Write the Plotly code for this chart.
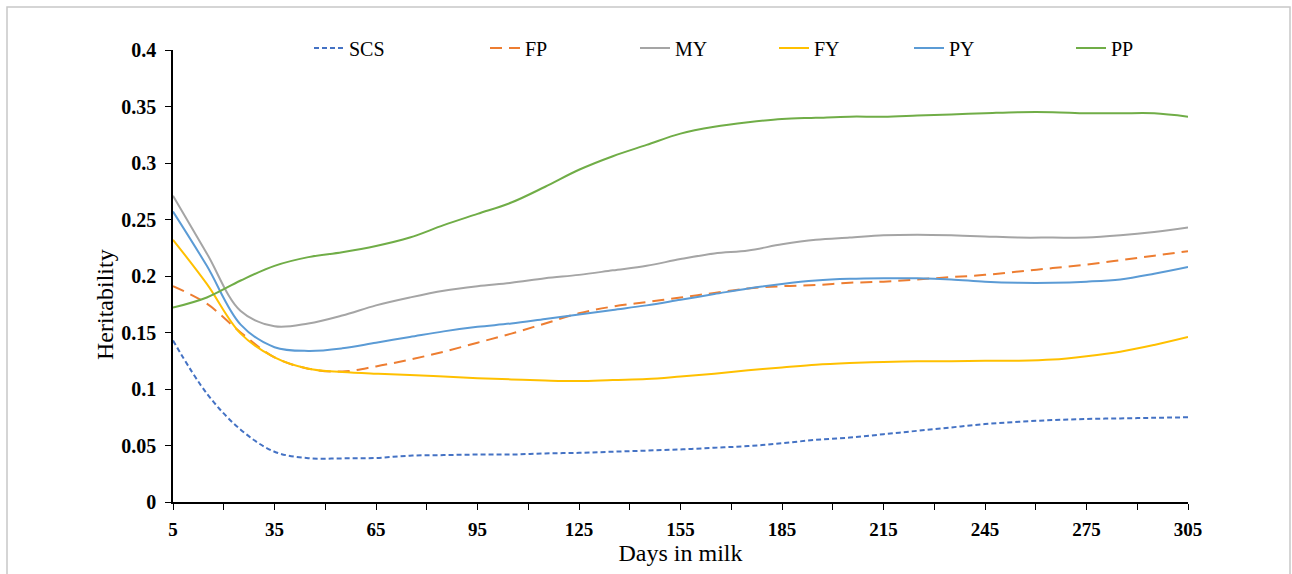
import plotly.graph_objects as go

days = list(range(5, 306, 10))

scs = [0.143, 0.096, 0.064, 0.0445, 0.0388, 0.0386, 0.039, 0.041, 0.0415, 0.042, 0.042,
       0.043, 0.0435, 0.0445, 0.0455, 0.0465, 0.048, 0.0495, 0.052, 0.055, 0.057,
       0.060, 0.063, 0.066, 0.069, 0.071, 0.0725, 0.0735, 0.074, 0.0745, 0.075]
fp = [0.191, 0.1755, 0.150, 0.128, 0.118, 0.1155, 0.120, 0.126, 0.133, 0.141, 0.149,
      0.158, 0.167, 0.173, 0.177, 0.181, 0.185, 0.189, 0.191, 0.192, 0.194,
      0.195, 0.197, 0.199, 0.201, 0.204, 0.207, 0.210, 0.214, 0.218, 0.222]
my = [0.271, 0.220, 0.169, 0.1555, 0.158, 0.165, 0.174, 0.181, 0.187, 0.191, 0.194,
      0.198, 0.201, 0.205, 0.209, 0.215, 0.220, 0.2226, 0.228, 0.232, 0.234,
      0.236, 0.2365, 0.236, 0.235, 0.234, 0.234, 0.234, 0.236, 0.239, 0.243]
fy = [0.232, 0.193, 0.149, 0.128, 0.118, 0.115, 0.1135, 0.1125, 0.111, 0.1095, 0.1085,
      0.1075, 0.107, 0.108, 0.1088, 0.111, 0.1135, 0.1165, 0.119, 0.1215, 0.123,
      0.124, 0.1245, 0.1245, 0.125, 0.125, 0.126, 0.129, 0.133, 0.139, 0.146]
py_ = [0.257, 0.209, 0.157, 0.137, 0.1337, 0.136, 0.141, 0.146, 0.151, 0.155, 0.158,
       0.162, 0.166, 0.170, 0.174, 0.179, 0.184, 0.189, 0.193, 0.196, 0.1975,
       0.198, 0.198, 0.197, 0.195, 0.194, 0.194, 0.195, 0.197, 0.202, 0.208]
pp = [0.172, 0.181, 0.196, 0.209, 0.2167, 0.221, 0.2265, 0.234, 0.245, 0.255, 0.265,
      0.279, 0.294, 0.306, 0.316, 0.326, 0.332, 0.336, 0.339, 0.340, 0.341,
      0.341, 0.342, 0.343, 0.344, 0.345, 0.345, 0.344, 0.344, 0.344, 0.341]

series_names = ["SCS", "FP", "MY", "FY", "PY", "PP"]
series_values = [scs, fp, my, fy, py_, pp]
series_colors = ["#4472C4", "#ED7D31", "#A5A5A5", "#FFC000", "#5B9BD5", "#70AD47"]
series_dash = ["5px,3px", "12px,7px", "solid", "solid", "solid", "solid"]

x_ticks = list(range(5, 306, 30))
y_ticks = [0, 0.05, 0.1, 0.15, 0.2, 0.25, 0.3, 0.35, 0.4]
y_labels = ["0", "0.05", "0.1", "0.15", "0.2", "0.25", "0.3", "0.35", "0.4"]

# plot area geometry (pixels)
L, R, T, B = 173, 1188, 50, 502
W, H = R - L, B - T
legend_text_px = [349, 525, 675, 814, 949, 1111]

font_family = "Liberation Serif, Times New Roman, serif"

fig = go.Figure()
legends = {}
for i, (name, vals, color, dash) in enumerate(zip(series_names, series_values, series_colors, series_dash)):
    key = "legend" if i == 0 else f"legend{i + 1}"
    fig.add_trace(go.Scatter(
        x=days, y=vals, name=name, mode="lines", legend=key,
        line=dict(color=color, width=2, dash=dash, shape="spline", smoothing=1.0),
    ))
    legends[key] = dict(
        orientation="h", x=(legend_text_px[i] - 40 - L) / W, y=(B - 48) / H,
        xanchor="left", yanchor="middle",
        font=dict(size=20, family=font_family), bgcolor="rgba(0,0,0,0)", itemwidth=30,
    )

fig.update_layout(
    width=1292, height=574,
    margin=dict(l=L, r=1292 - R, t=T, b=574 - B, autoexpand=False),
    paper_bgcolor="white", plot_bgcolor="white",
    font=dict(family=font_family, color="#000000"),
    showlegend=True,
    xaxis=dict(
        range=[5, 305], tickvals=x_ticks, ticktext=[f"<b>{v}</b>" for v in x_ticks],
        showgrid=False, zeroline=False, showline=True, linecolor="#000000", linewidth=1.5,
        ticks="outside", ticklen=6, tickcolor="#000000", tickwidth=1.2,
        minor=dict(tickvals=list(range(20, 305, 30)), ticks="outside", ticklen=6,
                   tickcolor="#000000", tickwidth=1.2),
        tickfont=dict(size=19, family=font_family), ticklabelstandoff=3,
        automargin=False,
        title=dict(text="Days in milk", font=dict(size=24, family=font_family), standoff=6),
    ),
    yaxis=dict(
        range=[0, 0.4], tickvals=y_ticks, ticktext=[f"<b>{t}</b>" for t in y_labels],
        showgrid=False, zeroline=False, showline=True, linecolor="#000000", linewidth=1.5,
        ticks="outside", ticklen=6, tickcolor="#000000", tickwidth=1.2,
        tickfont=dict(size=20, family=font_family), ticklabelstandoff=5,
        automargin=False,
    ),
    annotations=[dict(text="Heritability", xref="paper", yref="paper",
                      x=(105 - L) / W, y=(B - 305) / H, xanchor="center", yanchor="middle",
                      textangle=-90, showarrow=False,
                      font=dict(size=24, family=font_family, color="#000000"))],
    shapes=[dict(type="rect", xref="paper", yref="paper",
                 x0=(7 - L) / W, x1=(1290 - L) / W,
                 y0=(B - 600) / H, y1=(B - 7) / H,
                 line=dict(color="#C8C8C8", width=1.5), fillcolor="rgba(0,0,0,0)", layer="below")],
    **legends,
)

fig.write_html("out.html")
